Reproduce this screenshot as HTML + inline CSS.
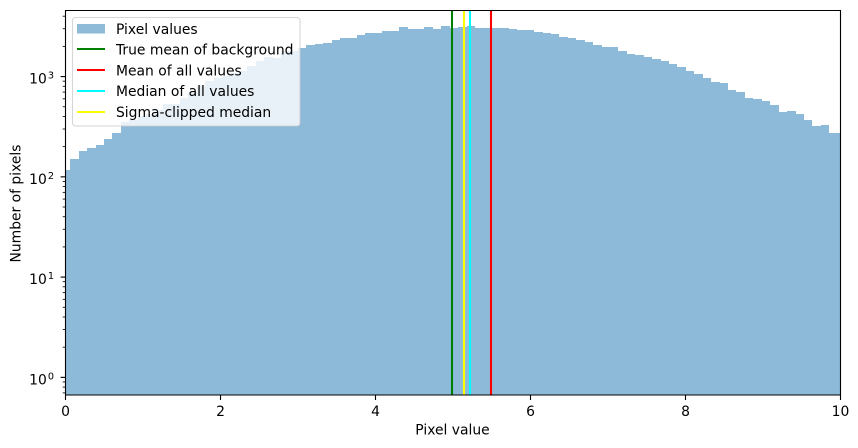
<!DOCTYPE html>
<html lang="en">
<head>
<meta charset="utf-8">
<title>Pixel value histogram</title>
<style>
html,body{margin:0;padding:0;background:#fff;width:858px;height:448px;overflow:hidden}
svg{display:block}
text{font-family:"DejaVu Sans","Liberation Sans",sans-serif;font-size:13.89px;fill:#000}
</style>
</head>
<body>
<svg id="chart" xmlns="http://www.w3.org/2000/svg" width="858" height="448" viewBox="0 0 858 448">
  <defs>
    <clipPath id="plot-clip"><rect x="65.5" y="10.5" width="775" height="384.5"></rect></clipPath>
  </defs>
  <g id="bars" clip-path="url(#plot-clip)" fill="#1f77b4" opacity="0.5"></g>
  <g id="vlines" clip-path="url(#plot-clip)"></g>
  <g id="y-ticks"></g>
  <g id="x-ticks"></g>
  <g stroke="#000" stroke-width="1.11" fill="none">
    <line x1="65.5" y1="10" x2="65.5" y2="395.5"></line>
    <line x1="840.5" y1="10" x2="840.5" y2="395.5"></line>
    <line x1="65" y1="10.5" x2="841" y2="10.5"></line>
    <line x1="65" y1="395" x2="841" y2="395"></line>
  </g>
  <text x="452.5" y="434.5" text-anchor="middle">Pixel value</text>
  <text transform="translate(20.4,203.5) rotate(-90)" text-anchor="middle">Number of pixels</text>
  <g>
    <rect x="72.5" y="17.5" width="227.5" height="108.5" rx="3" ry="3" fill="#fff" fill-opacity="0.8" stroke="#ccc" stroke-opacity="0.8" stroke-width="1.11"></rect>
    <g>
      <rect x="77" y="24" width="28" height="9.5" fill="#1f77b4" opacity="0.5"></rect>
      <text x="116" y="34">Pixel values</text>
    </g>
    <g>
      <line x1="77" x2="105" y1="49" y2="49" stroke="#008000" stroke-width="2.08"></line>
      <text x="116" y="54.5">True mean of background</text>
    </g>
    <g>
      <line x1="77" x2="105" y1="70" y2="70" stroke="#ff0000" stroke-width="2.08"></line>
      <text x="116" y="75.3">Mean of all values</text>
    </g>
    <g>
      <line x1="77" x2="105" y1="91" y2="91" stroke="#00ffff" stroke-width="2.08"></line>
      <text x="116" y="96">Median of all values</text>
    </g>
    <g>
      <line x1="77" x2="105" y1="112" y2="112" stroke="#ffff00" stroke-width="2.08"></line>
      <text x="116" y="117">Sigma-clipped median</text>
    </g>
  </g>
</svg>
<script>
var binStart = -0.047;
var binWidth = 0.10881;
var counts = [116,149,183,192,206,236,271,349,366,401,420,460,529,529,617,708,805,897,962,1007,1079,1138,1268,1422,1560,1524,1791,1791,1919,2056,2104,2153,2307,2415,2415,2588,2710,2710,2838,2838,3112,2972,2972,3112,2972,3184,3041,3112,3184,3041,3041,3041,3041,2972,2904,2904,2773,2710,2649,2472,2415,2307,2203,2056,1963,1963,1791,1671,1633,1560,1489,1422,1327,1239,1130,1054,962,877,857,729,697,607,593,566,516,440,450,420,366,318,326,271,271];
var xTicks = [0,2,4,6,8,10];
var yTickExponents = [0,1,2,3];
var yMinorMultipliers = [2,3,4,5,6,7,8,9];
var yMinorDecades = [-1,0,1,2,3];
var lineNames = ['true-mean-line','sigma-clipped-median-line','median-line','mean-line'];
var lineValues = [5.0,5.155,5.23,5.5];
var lineColors = ['#008000','#ffff00','#00ffff','#ff0000'];
var xDomain = [0,10];
var yDomain = [0.667,4560];

var NS = 'http://www.w3.org/2000/svg';
function xScale(v){ return 65.5 + (v - xDomain[0]) / (xDomain[1] - xDomain[0]) * 775; }
function yScale(v){
  var a = Math.log10(yDomain[0]), b = Math.log10(yDomain[1]);
  return 395 - (Math.log10(v) - a) / (b - a) * 384.5;
}
function make(tag, parent, attrs){
  var el = document.createElementNS(NS, tag);
  for (var k in attrs) el.setAttribute(k, attrs[k]);
  parent.appendChild(el);
  return el;
}

var barsG = document.getElementById('bars');
counts.forEach(function(c, i){
  var x0 = Math.round(xScale(binStart + i * binWidth));
  var x1 = Math.round(xScale(binStart + (i + 1) * binWidth));
  var top = Math.round(yScale(c));
  var r = make('rect', barsG, {x: x0, y: top, width: x1 - x0, height: 395 - top});
  
  
});

var linesG = document.getElementById('vlines');
lineValues.forEach(function(v, i){
  var x = Math.round(xScale(v) - 0.8);
  var l = make('line', linesG, {x1: x, x2: x, y1: 10.5, y2: 395, stroke: lineColors[i], 'stroke-width': 2.08});
  
  
});

var xG = document.getElementById('x-ticks');
xTicks.forEach(function(t){
  var x = xScale(t);
  var m = make('line', xG, {x1: x, x2: x, y1: 395, y2: 400, stroke: '#000', 'stroke-width': 1.11});
  
  
  var lb = make('text', xG, {x: x, y: 416, 'text-anchor': 'middle'});
  lb.textContent = String(t);
  
  
});

var yG = document.getElementById('y-ticks');
yTickExponents.forEach(function(e){
  var y = yScale(Math.pow(10, e));
  var m = make('line', yG, {x1: 60.6, x2: 65.5, y1: y, y2: y, stroke: '#000', 'stroke-width': 1.11});
  
  
  var lb = make('text', yG, {x: 54, y: y + 7, 'text-anchor': 'end'});
  
  
  var base = make('tspan', lb, {});
  base.textContent = '10';
  var sup = make('tspan', lb, {dy: -5, 'font-size': '9.72px', dx: 1});
  sup.textContent = String(e);
});
yMinorDecades.forEach(function(d){
  yMinorMultipliers.forEach(function(mult){
    var v = mult * Math.pow(10, d);
    if (v < yDomain[0] || v > yDomain[1]) return;
    var y = yScale(v);
    var m = make('line', yG, {x1: 62.7, x2: 65.5, y1: y, y2: y, stroke: '#000', 'stroke-width': 0.83});
    
    
  });
});
</script>
</body>
</html>
